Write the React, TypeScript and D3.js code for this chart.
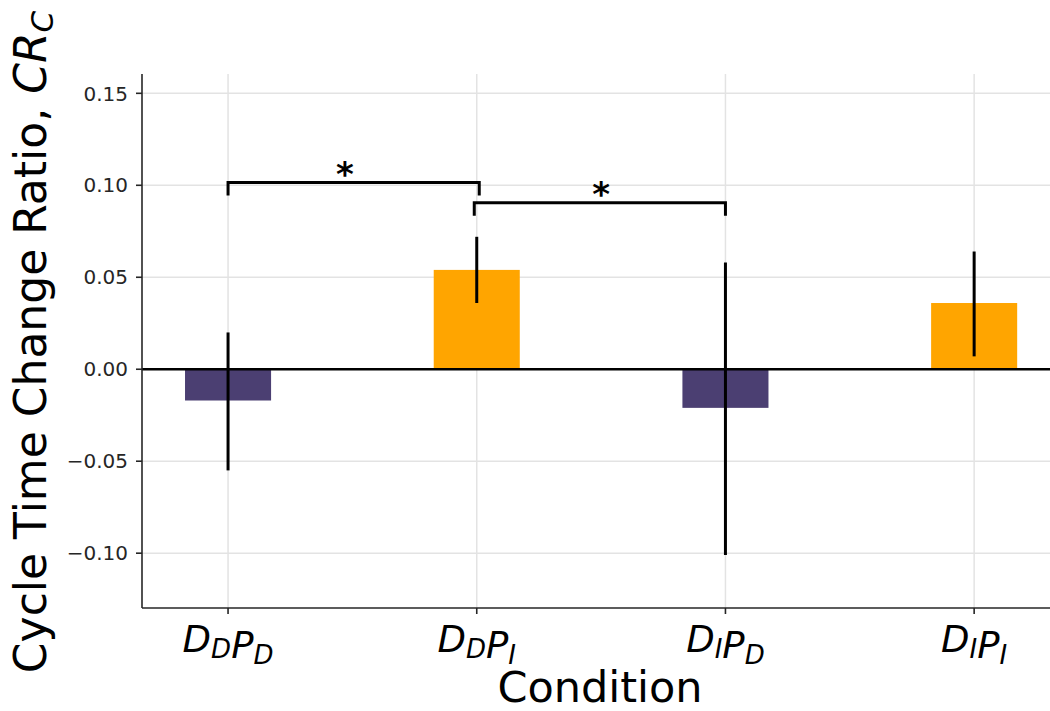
import React, { useEffect, useRef } from 'react';
import * as d3 from 'd3';

// Conditions (tick labels are written as base + subscript pairs)
const conditions = ['DDPD', 'DDPI', 'DIPD', 'DIPI'];
const labelParts = [
  [['D', 'D'], ['P', 'D']],
  [['D', 'D'], ['P', 'I']],
  [['D', 'I'], ['P', 'D']],
  [['D', 'I'], ['P', 'I']],
];
const means = [-0.017, 0.054, -0.021, 0.036];
const ciLow = [-0.055, 0.036, -0.101, 0.007];
const ciHigh = [0.020, 0.072, 0.058, 0.064];
const barColors = ['#4b3f72', '#ffa500', '#4b3f72', '#ffa500'];

// Significance brackets (in condition index units)
const bracketFrom = [0, 0.99];
const bracketTo = [1.01, 2];
const bracketY = [0.1015, 0.0905];
const starX = [0.47, 1.5];

const yTicks = [-0.1, -0.05, 0, 0.05, 0.1, 0.15];

const App = () => {
  const svgRef = useRef<SVGSVGElement>(null);

  useEffect(() => {
    const W = 1050;
    const H = 711;
    const left = 142;
    const top = 74;
    const bottom = 608;
    const right = 1050;

    const svg = d3.select(svgRef.current);
    svg.selectAll('*').remove();
    svg.attr('width', W).attr('height', H);

    const x = d3.scaleLinear().domain([-0.346, 3.305]).range([left, right]);
    const y = d3.scaleLinear().domain([-0.1298, 0.1605]).range([bottom, top]);
    const barW = 0.346;
    const font = '"DejaVu Sans", sans-serif';

    // grid
    const grid = svg.append('g');
    grid
      .selectAll('line.h')
      .data(yTicks)
      .enter()
      .append('line')
      .attr('x1', left)
      .attr('x2', right)
      .attr('y1', d => y(d))
      .attr('y2', d => y(d))
      .attr('stroke', '#e3e3e3')
      .attr('stroke-width', 1.5);
    grid
      .selectAll('line.v')
      .data(conditions)
      .enter()
      .append('line')
      .attr('x1', (d, i) => x(i))
      .attr('x2', (d, i) => x(i))
      .attr('y1', top)
      .attr('y2', bottom)
      .attr('stroke', '#e3e3e3')
      .attr('stroke-width', 1.5);

    // bars
    svg
      .selectAll('.bar')
      .data(means)
      .enter()
      .append('rect')
      .attr('class', 'bar')
      .attr('x', (d, i) => x(i - barW / 2))
      .attr('width', x(barW) - x(0))
      .attr('y', d => y(Math.max(0, d)))
      .attr('height', d => Math.abs(y(d) - y(0)))
      .attr('fill', (d, i) => barColors[i]);

    // zero line
    svg
      .append('line')
      .attr('x1', left)
      .attr('x2', right)
      .attr('y1', y(0))
      .attr('y2', y(0))
      .attr('stroke', '#000')
      .attr('stroke-width', 2.4);

    // error bars
    svg
      .selectAll('.err')
      .data(means)
      .enter()
      .append('line')
      .attr('x1', (d, i) => x(i))
      .attr('x2', (d, i) => x(i))
      .attr('y1', (d, i) => y(ciLow[i]))
      .attr('y2', (d, i) => y(ciHigh[i]))
      .attr('stroke', '#000')
      .attr('stroke-width', 3);

    // significance brackets
    const leg = 0.007;
    bracketY.forEach((by, i) => {
      const p = d3.path();
      p.moveTo(x(bracketFrom[i]), y(by - leg));
      p.lineTo(x(bracketFrom[i]), y(by));
      p.lineTo(x(bracketTo[i]), y(by));
      p.lineTo(x(bracketTo[i]), y(by - leg));
      svg
        .append('path')
        .attr('d', p.toString())
        .attr('fill', 'none')
        .attr('stroke', '#000')
        .attr('stroke-width', 3);
      svg
        .append('text')
        .attr('x', x(starX[i]))
        .attr('y', y(by) + 3)
        .attr('text-anchor', 'middle')
        .style('font-family', font)
        .style('font-size', '34px')
        .style('font-weight', 'bold')
        .text('*');
    });

    // spines
    svg
      .append('line')
      .attr('x1', left)
      .attr('x2', left)
      .attr('y1', top)
      .attr('y2', bottom)
      .attr('stroke', '#262626')
      .attr('stroke-width', 1.6);
    svg
      .append('line')
      .attr('x1', left)
      .attr('x2', right)
      .attr('y1', bottom)
      .attr('y2', bottom)
      .attr('stroke', '#262626')
      .attr('stroke-width', 1.6);

    // y ticks
    const fmt = (v: number) => (v < 0 ? '\u2212' : '') + Math.abs(v).toFixed(2);
    const yt = svg.append('g');
    yTicks.forEach(v => {
      yt.append('line')
        .attr('x1', left - 6)
        .attr('x2', left)
        .attr('y1', y(v))
        .attr('y2', y(v))
        .attr('stroke', '#262626')
        .attr('stroke-width', 1.6);
      yt.append('text')
        .attr('x', left - 14)
        .attr('y', y(v))
        .attr('dy', '0.36em')
        .attr('text-anchor', 'end')
        .style('font-family', font)
        .style('font-size', '20px')
        .attr('fill', '#262626')
        .text(fmt(v));
    });

    // x ticks
    labelParts.forEach((parts, i) => {
      svg
        .append('line')
        .attr('x1', x(i))
        .attr('x2', x(i))
        .attr('y1', bottom)
        .attr('y2', bottom + 6)
        .attr('stroke', '#262626')
        .attr('stroke-width', 1.6);
      const t = svg
        .append('text')
        .attr('x', x(i))
        .attr('y', 652)
        .attr('text-anchor', 'middle')
        .style('font-family', font)
        .style('font-style', 'italic')
        .style('font-size', '37px');
      parts.forEach(([base, sub]) => {
        t.append('tspan').attr('dy', 0).text(base);
        t.append('tspan').attr('dy', 6).style('font-size', '26px').text(sub);
        t.append('tspan').attr('dy', -6).text('');
      });
    });

    // axis labels
    svg
      .append('text')
      .attr('x', 600)
      .attr('y', 702)
      .attr('text-anchor', 'middle')
      .style('font-family', font)
      .style('font-size', '43px')
      .text('Condition');

    const yl = svg
      .append('text')
      .attr('transform', `translate(46, ${(top + bottom) / 2 + 1}) rotate(-90)`)
      .attr('text-anchor', 'middle')
      .style('font-family', font)
      .style('font-size', '44px');
    yl.append('tspan').text('Cycle Time Change Ratio, ');
    yl.append('tspan').style('font-style', 'italic').text('CR');
    yl.append('tspan')
      .attr('dy', 7)
      .style('font-style', 'italic')
      .style('font-size', '31px')
      .text('C');
  }, []);

  return (
    <svg
      ref={svgRef}
      style={{ position: 'absolute', left: 0, top: 0, background: '#fff' }}
    ></svg>
  );
};

export default App;
